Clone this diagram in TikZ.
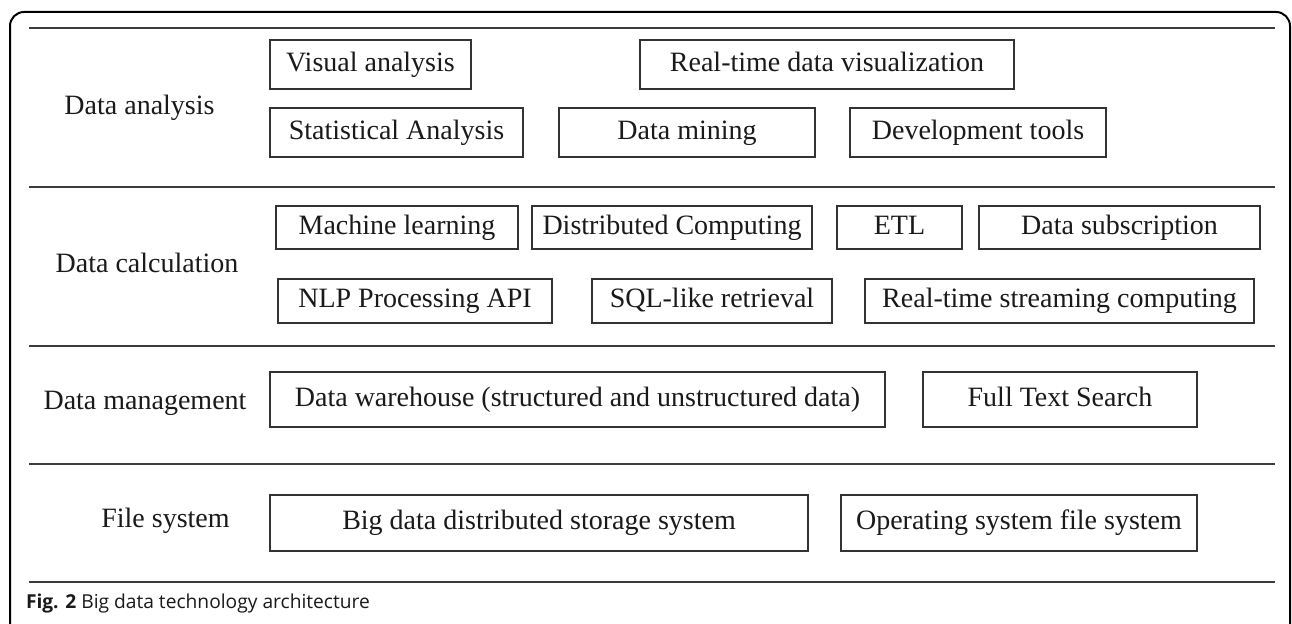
\documentclass[tikz,border=0pt]{standalone}
\usepackage{fontspec}
\setmainfont{Liberation Serif}
\newfontfamily\capfont{Open Sans}
\definecolor{ink}{HTML}{1A1A1A}
\definecolor{rule}{HTML}{3C3C3C}
\definecolor{edge}{HTML}{333333}
\begin{document}
\begin{tikzpicture}[x=0.5pt,y=-0.5pt,
  every node/.style={inner sep=0pt,outer sep=0pt,text=ink,
    font=\fontsize{14}{16}\selectfont,text height=0.66em,text depth=0pt},
  item/.style={draw=edge,line width=0.55pt,minimum width=#1},
  row1/.style={item=#1,minimum height=24.5pt},
  row2/.style={item=#1,minimum height=22pt},
  row3/.style={item=#1,minimum height=27.5pt},
  layer/.style={anchor=center},
  sep/.style={draw=rule,line width=0.8pt}]
\clip (0,0) rectangle (1292,624);
\useasboundingbox (0,0) rectangle (1292,624);
\fill[white] (0,0) rectangle (1292,624);

% outer frame (continues below the page)
\draw[line width=1pt,rounded corners=7pt] (10,700) -- (10,12) -- (1290,12) -- (1290,700);

% layer separators
\foreach \yy in {28,187,346,464,582}
  \draw[sep] (29,\yy) -- (1275,\yy);

% layer names
\node[layer] (lana) at (139.5,108) {Data analysis};
\node[layer] (lcal) at (147,266) {Data calculation};
\node[layer] (lman) at (145,403) {Data management};
\node[layer] (lfs)  at (165.5,521) {File system};

% data analysis
\node[row1=100.5pt] (va)  at (370.5,64.5) {Visual analysis};
\node[row1=187pt]   (rtv) at (827,64.5)   {Real-time data visualization};
\node[row1=126.5pt] (sa)  at (396.5,132.5) {Statistical Analysis};
\node[row1=128pt]   (dm)  at (687,132.5)  {Data mining};
\node[row1=128pt]   (dev) at (978,132.5)  {Development tools};

% data calculation
\node[item=121pt,minimum height=21.5pt]   (ml)  at (397,227.5)    {Machine learning};
\node[item=140pt,minimum height=21.5pt]   (dc)  at (672,227.5)    {Distributed Computing};
\node[item=62.5pt,minimum height=21.5pt]  (etl) at (899.5,227.5)  {ETL};
\node[item=140.5pt,minimum height=21.5pt] (ds)  at (1119.5,227.5) {Data subscription};
\node[row2=137pt]   (nlp) at (415,301)    {NLP Processing API};
\node[row2=120pt]   (sql) at (712,301)    {SQL-like retrieval};
\node[row2=194.5pt] (rts) at (1059.5,301) {Real-time streaming computing};

% data management
\node[row3=307.5pt] (dw)  at (577.5,399.5) {Data warehouse (structured and unstructured data)};
\node[row3=137pt]   (fts) at (1060,399.5)  {Full Text Search};

% file system
\node[item=269pt,minimum height=28pt] (bd) at (539,523)  {Big data distributed storage system};
\node[item=178pt,minimum height=28pt] (os) at (1019,523) {Operating system file system};

% caption
\node[anchor=base west,font=\capfont\fontsize{9.6}{11}\selectfont,text height=,text depth=]
  (cap) at (26,609) {\textbf{Fig. 2} Big data technology architecture};
\end{tikzpicture}
\end{document}
